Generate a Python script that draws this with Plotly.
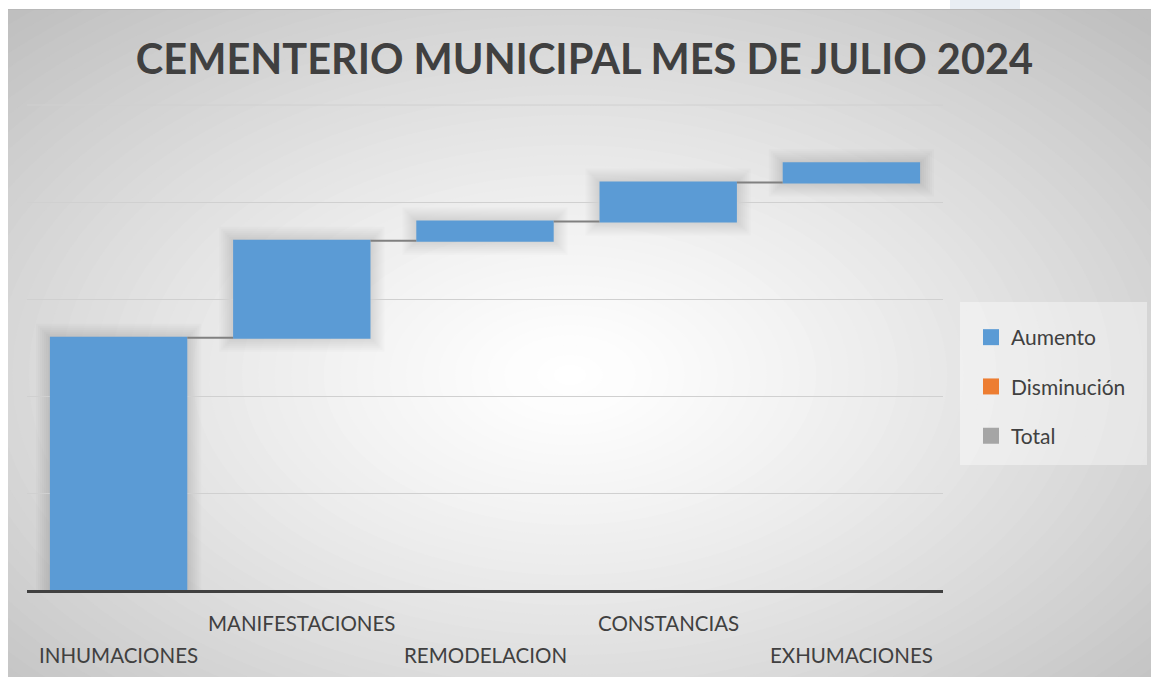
import plotly.graph_objects as go

# ---- data ----
categories = ["INHUMACIONES", "MANIFESTACIONES", "REMODELACION", "CONSTANCIAS", "EXHUMACIONES"]
values = [26, 10, 2, 4, 2]
measures = ["relative", "relative", "relative", "relative", "relative"]
legend_labels = ["Aumento", "Disminución", "Total"]
legend_colors = ["#5B9BD5", "#ED7D31", "#A5A5A5"]
title_text = "CEMENTERIO MUNICIPAL MES DE JULIO 2024"
y_max = 50
y_top = 50.103

# ---- layout geometry (pixels) ----
W, H = 1151, 677
L, R, T, B = 27, 208, 104, 87
pw, ph = W - L - R, H - T - B
FONT = "Lato, 'Open Sans', sans-serif"
TXT = "#404040"
GRID = "#D0D0D0"


def px_x(p):
    return (p - L) / pw


def px_y(p):
    return (H - B - p) / ph


shapes = []
# base colour of the chart area
shapes.append(dict(type="rect", xref="paper", yref="paper", layer="below",
                   x0=px_x(-5), x1=px_x(W + 5), y0=px_y(H + 5), y1=px_y(-5),
                   fillcolor="rgb(191,191,191)", line=dict(width=0)))
# radial-ish background gradient
cx, cy = 570, 375
RX, RY = 820, 500
N = 50
for k in range(N, 0, -1):
    r = k / N
    c = int(round(255 - 64 * r ** 1.3))
    shapes.append(dict(type="circle", xref="paper", yref="paper", layer="below",
                       x0=px_x(cx - r * RX), x1=px_x(cx + r * RX),
                       y0=px_y(cy + r * RY), y1=px_y(cy - r * RY),
                       fillcolor=f"rgb({c},{c},{c})", line=dict(width=0)))
# white margins around the chart area
shapes.append(dict(type="rect", xref="paper", yref="paper", layer="below",
                   x0=px_x(-5), x1=px_x(8), y0=px_y(H + 5), y1=px_y(-5),
                   fillcolor="white", line=dict(width=0)))
shapes.append(dict(type="rect", xref="paper", yref="paper", layer="below",
                   x0=px_x(-5), x1=px_x(W + 5), y0=px_y(9), y1=px_y(-5),
                   fillcolor="white", line=dict(width=0)))
shapes.append(dict(type="rect", xref="paper", yref="paper", layer="below",
                   x0=px_x(950), x1=px_x(1020), y0=px_y(9), y1=px_y(-5),
                   fillcolor="#E9EEF3", line=dict(width=0)))
shapes.append(dict(type="line", xref="paper", yref="paper", layer="below",
                   x0=px_x(8), x1=px_x(W + 5), y0=px_y(9.5), y1=px_y(9.5),
                   line=dict(color="#B8B8B8", width=1)))
# legend box
shapes.append(dict(type="rect", xref="paper", yref="paper", layer="below",
                   x0=px_x(960), x1=px_x(1147), y0=px_y(465), y1=px_y(302),
                   fillcolor="rgba(255,255,255,0.40)", line=dict(width=0)))
# top gridline (at the axis maximum)
shapes.append(dict(type="line", xref="paper", yref="y", layer="below",
                   x0=0, x1=1, y0=y_max, y1=y_max,
                   line=dict(color=GRID, width=1)))

# soft shadows around the bars (computed from the data)
bar_half = 0.375
xper = pw / len(categories)
yper = ph / y_top
cum = 0
for i, v in enumerate(values):
    lo, hi = cum, cum + v
    cum = hi
    for e in (2, 4, 6, 8, 10, 12, 14):
        shapes.append(dict(type="rect", xref="x", yref="y", layer="below",
                           x0=i - bar_half - e / xper, x1=i + bar_half + e / xper,
                           y0=max(lo - e / yper, 0), y1=hi + e / yper,
                           fillcolor="rgba(0,0,0,0.016)", line=dict(width=0)))

fig = go.Figure()
fig.add_trace(go.Waterfall(
    x=categories, y=values, measure=measures,
    increasing=dict(marker=dict(color=legend_colors[0], line=dict(width=0))),
    decreasing=dict(marker=dict(color=legend_colors[1], line=dict(width=0))),
    totals=dict(marker=dict(color=legend_colors[2], line=dict(width=0))),
    connector=dict(line=dict(color="#808080", width=2)),
    showlegend=False, hoverinfo="x+y",
))
for lbl, col in zip(legend_labels, legend_colors):
    fig.add_trace(go.Scatter(x=[None], y=[None], mode="markers", name=lbl,
                             legendgroup=lbl,
                             marker=dict(symbol="square", size=19, color=col)))

annotations = []
for i, cat in enumerate(categories):
    ypix = 623 if i % 2 == 1 else 655
    annotations.append(dict(x=cat, xref="x", y=px_y(ypix), yref="paper",
                            text=cat, showarrow=False, xanchor="center", yanchor="middle",
                            font=dict(family=FONT, size=20.5, color=TXT)))

fig.update_layout(
    width=W, height=H,
    margin=dict(l=L, r=R, t=T, b=B, pad=0),
    paper_bgcolor="white", plot_bgcolor="rgba(0,0,0,0)",
    font=dict(family=FONT, color=TXT),
    title=dict(text=title_text, x=584.5 / W, xanchor="center", y=1 - 59 / H, yanchor="middle",
               xref="container", yref="container",
               font=dict(family=FONT, size=41.5, color=TXT, weight="bold")),
    waterfallgap=0.25,
    xaxis=dict(showticklabels=False, showgrid=False, zeroline=False, ticks="",
               showline=True, linecolor="#404040", linewidth=3, fixedrange=True),
    yaxis=dict(range=[0, y_top], tick0=0, dtick=10, showticklabels=False, showgrid=True,
               gridcolor=GRID, gridwidth=1, zeroline=False, showline=False, fixedrange=True),
    legend=dict(xref="container", yref="container", x=971 / W, y=1 - 317 / H,
                xanchor="left", yanchor="top", bgcolor="rgba(0,0,0,0)",
                font=dict(family=FONT, size=21, color=TXT), tracegroupgap=19,
                itemwidth=30),
    shapes=shapes, annotations=annotations,
)

fig.write_html("out.html", config={"displayModeBar": False},
               post_script="document.body.style.margin='0';document.body.style.overflow='hidden';")
